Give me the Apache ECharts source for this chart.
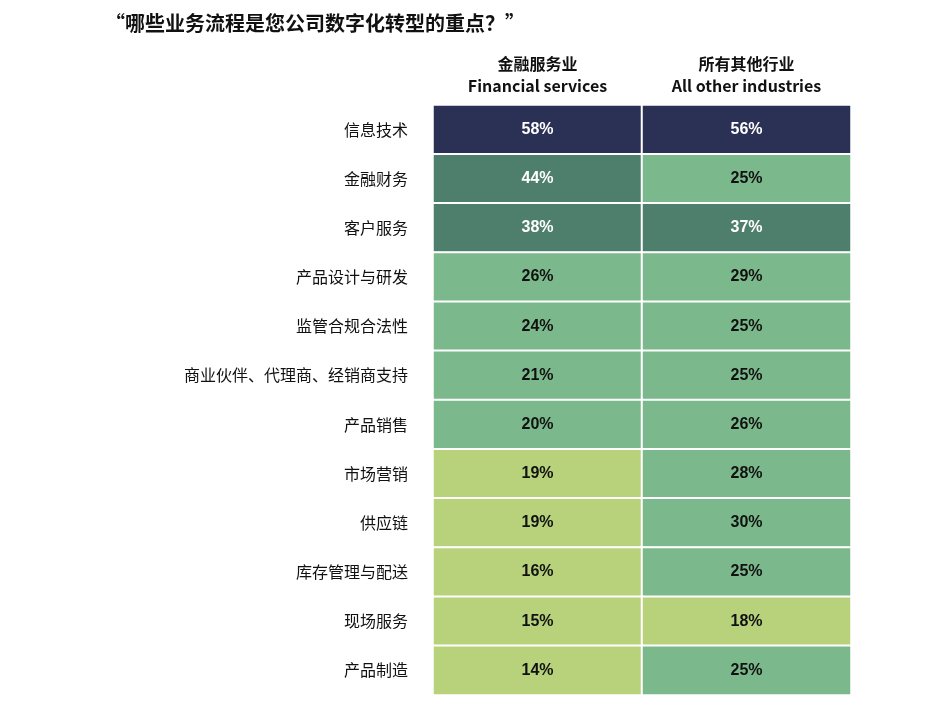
<!DOCTYPE html>
<html><head><meta charset="utf-8">
<script src="https://cdn.jsdelivr.net/npm/echarts@6/dist/echarts.min.js"></script>
<style>html,body{margin:0;background:#fff}#c{width:931px;height:702px}</style>
</head><body><div id="c"></div>
<script>
const columns = ['金融服务业\nFinancial services', '所有其他行业\nAll other industries'];
const processes = ['信息技术','金融财务','客户服务','产品设计与研发','监管合规合法性','商业伙伴、代理商、经销商支持','产品销售','市场营销','供应链','库存管理与配送','现场服务','产品制造'];
const financial = [58,44,38,26,24,21,20,19,19,16,15,14];
const others = [56,25,37,29,25,25,26,28,30,25,18,25];
const data = [];
processes.forEach((p,i)=>{data.push([0,i,financial[i]]);data.push([1,i,others[i]]);});
const chart = echarts.init(document.getElementById('c'));
chart.setOption({
  title:{text:'“哪些业务流程是您公司数字化转型的重点？”',left:100,top:8,textStyle:{fontSize:20,fontWeight:'bold',color:'#111',fontFamily:'Noto Sans CJK SC'}},
  grid:{left:433,right:80,top:105,bottom:7},
  xAxis:{type:'category',position:'top',data:columns,axisLine:{show:false},axisTick:{show:false},
    axisLabel:{fontSize:16,fontWeight:'bold',color:'#111',lineHeight:22,margin:8,fontFamily:'Noto Sans CJK SC'}},
  yAxis:{type:'category',inverse:true,data:processes,axisLine:{show:false},axisTick:{show:false},
    axisLabel:{fontSize:16,color:'#111',margin:25,fontFamily:'Noto Sans CJK SC'}},
  visualMap:{type:'piecewise',show:false,dimension:2,pieces:[
    {lt:20,color:'#b8d27b'},{gte:20,lt:37,color:'#7bb98c'},{gte:37,lt:50,color:'#4e7f6c'},{gte:50,color:'#2b3055'}]},
  series:[{type:'heatmap',data:data,itemStyle:{borderColor:'#fff',borderWidth:2},
    label:{show:true,fontSize:16,fontWeight:'bold',fontFamily:'Liberation Sans',
      formatter:p=>p.value[2]+'%',
      color:'#111',
      rich:{}},
  }]
});
chart.setOption({series:[{label:{formatter:p=>p.value[2]>=37?'{w|'+p.value[2]+'%}':p.value[2]+'%',rich:{w:{color:'#fff',fontSize:16,fontWeight:'bold',fontFamily:'Liberation Sans'}}}}]});
</script></body></html>
